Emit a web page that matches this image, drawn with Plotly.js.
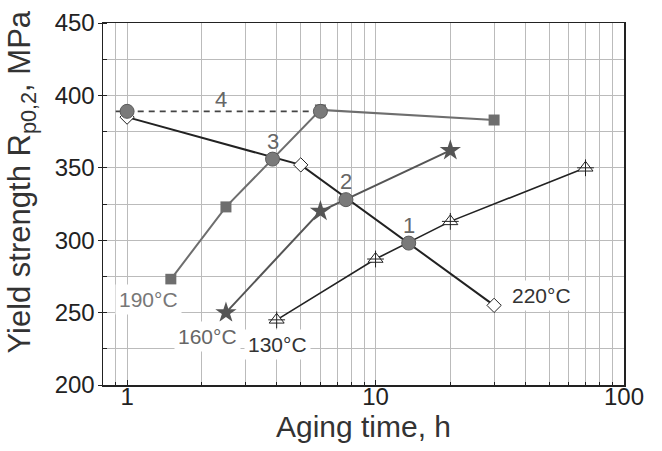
<!DOCTYPE html>
<html>
<head>
<meta charset="utf-8">
<script src="https://cdn.plot.ly/plotly-3.0.1.min.js"></script>
<style>html,body{margin:0;padding:0;background:#fff;}#chart{width:662px;height:451px;}</style>
</head>
<body>
<div id="chart"></div>
<script>
// Aging time (h) and yield strength (MPa)
const t220 = [1, 5, 30];
const y220 = [385, 352, 255];
const t190 = [1.5, 2.5, 6, 30];
const y190 = [273, 323, 390, 383];
const t160 = [2.5, 6, 20];
const y160 = [250, 320, 362];
const t130 = [4, 10, 20, 70];
const y130 = [245, 287, 313, 350];
// intersection points (grey circles)
const tCirc = [1, 6, 3.85, 7.6, 13.6];
const yCirc = [389, 389, 356, 328, 298];
// dashed line "4"
const tDash = [0.9, 6];
const yDash = [389, 389];
const numLabels = ['3', '2', '1'];
const numIdx = [2, 3, 4];
const tempLabels = ['190°C', '160°C', '130°C', '220°C'];
const xTickVals = [1, 10, 100];
const xTickText = ['1', '10', '100'];
const xTitle = 'Aging time, h';
const yTitle = 'Yield strength R<sub>p0,2</sub>, MPa';

const F = 'Liberation Sans, Arial, Helvetica, sans-serif';

const traces = [
  {x: tDash, y: yDash, mode: 'lines', line: {color: '#444', width: 1.6, dash: '6px,5px'}, hoverinfo: 'skip'},
  {x: t130, y: y130, mode: 'lines', line: {color: '#222', width: 1.6}},
  {x: t160, y: y160, mode: 'lines', line: {color: '#555', width: 2}},
  {x: t190, y: y190, mode: 'lines+markers', line: {color: '#6e6e6e', width: 2},
   marker: {symbol: 'square', size: 11, color: '#6e6e6e'}},
  {x: t220, y: y220, mode: 'lines+markers', line: {color: '#222', width: 2},
   marker: {symbol: 'diamond', size: 11, color: '#fff', line: {color: '#222', width: 1}}},
  {x: t160, y: y160, mode: 'markers', marker: {symbol: 'star', size: 16, color: '#555', line: {width: 0}}},
  {x: t130, y: y130, mode: 'markers', marker: {symbol: 'triangle-up', size: 13, color: '#fff', line: {color: '#222', width: 1}}},
  {x: t130, y: y130, mode: 'markers', marker: {symbol: 'cross-thin', size: 12, line: {color: '#222', width: 1}}},
  {x: tCirc, y: yCirc, mode: 'markers', marker: {symbol: 'circle', size: 14, color: '#7a7a7a', line: {color: '#5a5a5a', width: 1}}}
];

const annotations = [];
numIdx.forEach((k, i) => {
  annotations.push({x: Math.log10(tCirc[k]), y: yCirc[k], text: numLabels[i], showarrow: false,
    yshift: 18, font: {family: F, size: 22, color: '#666'}});
});
annotations.push({x: (Math.log10(tDash[0]) + Math.log10(tDash[1])) / 2 + 0.012, y: yDash[0], text: '4', showarrow: false,
  yshift: 12, font: {family: F, size: 22, color: '#666'}});
const tempAnchors = [[t190[0], y190[0], -22, -20, '#777'], [t160[0], y160[0], -18, -24, '#666'],
                     [t130[0], y130[0], 1, -25, '#333'], [t220[2], y220[2], 47, 10, '#333']];
tempAnchors.forEach((a, i) => {
  annotations.push({x: Math.log10(a[0]), y: a[1], text: tempLabels[i], showarrow: false,
    xshift: a[2], yshift: a[3], bgcolor: '#fff', borderpad: 3,
    font: {family: F, size: 21, color: a[4]}});
});
// y-axis title (placed as rotated annotation to match the reference's offset)
annotations.push({xref: 'paper', yref: 'paper', x: -0.155, y: 0.56, text: yTitle, textangle: -90,
  showarrow: false, xanchor: 'center', yanchor: 'middle', font: {family: F, size: 31, color: '#333'}});

const layout = {
  width: 662, height: 451,
  margin: {l: 103, r: 38, t: 23, b: 66},
  paper_bgcolor: '#fff', plot_bgcolor: '#fff',
  showlegend: false,
  font: {family: F, color: '#222'},
  xaxis: {
    type: 'log', range: [Math.log10(0.8), 2],
    tickmode: 'array', tickvals: xTickVals, ticktext: xTickText,
    showgrid: true, gridcolor: '#bbb', gridwidth: 1,
    showline: true, linecolor: '#222', linewidth: 1.5, mirror: true,
    ticks: 'inside', ticklen: 5, tickcolor: '#222',
    minor: {dtick: 'D1', showgrid: true, gridcolor: '#bbb', gridwidth: 1, ticks: 'inside', ticklen: 3, tickcolor: '#222'},
    tickfont: {family: F, size: 24, color: '#222'},
    ticklabelstandoff: -10,
    title: {text: xTitle, font: {family: F, size: 30, color: '#333'}, standoff: 0},
    zeroline: false
  },
  yaxis: {
    range: [200, 450], dtick: 50,
    showgrid: true, gridcolor: '#bbb', gridwidth: 1,
    showline: true, linecolor: '#222', linewidth: 1.5, mirror: true,
    ticks: 'outside', ticklen: 4, tickcolor: '#222',
    minor: {dtick: 25, showgrid: true, gridcolor: '#bbb', gridwidth: 1, ticks: 'inside', ticklen: 4, tickcolor: '#222'},
    tickfont: {family: F, size: 24, color: '#222'},
    ticklabelstandoff: -2,
    zeroline: false
  },
  annotations: annotations
};

Plotly.newPlot('chart', traces, layout, {displayModeBar: false, staticPlot: true});
</script>
</body>
</html>
